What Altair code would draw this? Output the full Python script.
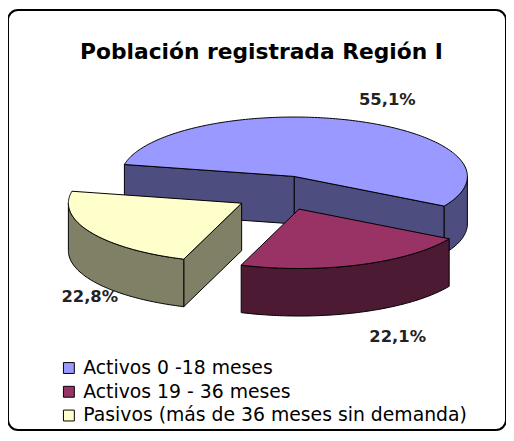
import math
import altair as alt
import pandas as pd

# ---- data ----
categories = [
    "Activos 0 -18 meses",
    "Activos 19 - 36 meses",
    "Pasivos (más de 36 meses sin demanda)",
]
values = [55.1, 22.1, 22.8]
title_text = "Población registrada Región I"

# ---- styles / layout ----
top_colors = ["#9999FF", "#993366", "#FFFFCC"]
side_colors = ["#4D4D80", "#4D1A33", "#808066"]
W, H = 503, 424
CX, CY = 289, 168          # centre of the pie's top ellipse (chart px)
RX, RY = 175, 60           # ellipse radii
DEPTH = 48                 # pie thickness
START = 168.4              # first slice starts here, slices run clockwise
EXPLODE = [(0, 0), (5, 33), (-53, 27)]
LABEL_OFF = [(32, -21), (39, 73), (-1, 65)]
DRAW_ORDER = [0, 2, 1]
FONT = "DejaVu Sans"

labels = [f"{v:.1f}".replace(".", ",") + "%" for v in values]


def pt(a, ox, oy, dz=0.0):
    r = math.radians(a)
    return CX + ox + RX * math.cos(r), CY + oy - RY * math.sin(r) + dz


def arc(a1, a2, ox, oy, dz=0.0):
    n = max(2, int(abs(a2 - a1) / 1.0) + 1)
    return [pt(a1 + (a2 - a1) * k / (n - 1), ox, oy, dz) for k in range(n)]


rows = []
label_rows = []
pid = 0


def add_poly(points, slice_i, kind):
    global pid
    for k, (x, y) in enumerate(points):
        rows.append({"poly": pid, "slice": slice_i, "kind": kind, "idx": k,
                     "x": x, "y": y, "category": categories[slice_i]})
    pid += 1


total = sum(values)
cum = 0.0
spans = []
for i, v in enumerate(values):
    a_start = START - cum / total * 360.0
    a_end = a_start - v / total * 360.0
    cum += v
    spans.append((a_end, a_start))

for i in range(len(values)):
    lo, hi = spans[i]
    ox, oy = EXPLODE[i]
    apex = (CX + ox, CY + oy)
    apex_b = (CX + ox, CY + oy + DEPTH)
    # cut faces
    if math.cos(math.radians(lo)) > 0:
        p, pb = pt(lo, ox, oy), pt(lo, ox, oy, DEPTH)
        add_poly([apex, p, pb, apex_b], i, "side")
    if math.cos(math.radians(hi)) < 0:
        p, pb = pt(hi, ox, oy), pt(hi, ox, oy, DEPTH)
        add_poly([apex, p, pb, apex_b], i, "side")
    # outer wall (front half only)
    for k in (-2, -1, 0, 1):
        f1, f2 = 180 + 360 * k, 360 + 360 * k
        a1, a2 = max(lo, f1), min(hi, f2)
        if a2 - a1 > 0.5:
            add_poly(arc(a1, a2, ox, oy) + arc(a2, a1, ox, oy, DEPTH), i, "side")
    # top face
    add_poly([apex] + arc(lo, hi, ox, oy), i, "top")
    # label
    mid = (lo + hi) / 2
    mx, my = pt(mid, ox, oy)
    label_rows.append({"x": mx + LABEL_OFF[i][0], "y": my + LABEL_OFF[i][1],
                       "label": labels[i]})

df = pd.DataFrame(rows)
ldf = pd.DataFrame(label_rows)

xs = alt.Scale(domain=[0, W], nice=False, zero=False)
ys = alt.Scale(domain=[0, H], nice=False, zero=False, reverse=True)
X = alt.X("x:Q", scale=xs, axis=None)
Y = alt.Y("y:Q", scale=ys, axis=None)

base = alt.Chart(df)
layers = []
for i in DRAW_ORDER:
    layers.append(
        base.transform_filter(
            f"datum.slice == {i} && datum.kind == 'side'"
        ).mark_line(interpolate="linear-closed", fill=side_colors[i],
                    stroke="black", strokeWidth=1, strokeJoin="round")
        .encode(x=X, y=Y, detail="poly:N", order="idx:Q")
    )

tops = base.transform_filter("datum.kind == 'top'").mark_line(
    interpolate="linear-closed", stroke="black", strokeWidth=1, strokeJoin="round"
).encode(
    x=X, y=Y, detail="poly:N", order="idx:Q",
    fill=alt.Fill("category:N",
                  scale=alt.Scale(domain=categories, range=top_colors),
                  legend=alt.Legend(orient="none", legendX=52, legendY=352,
                                    title=None, symbolType="square",
                                    symbolSize=121, symbolStrokeColor="black",
                                    symbolStrokeWidth=1, labelFont=FONT,
                                    labelFontSize=19, labelColor="black",
                                    rowPadding=4, labelOffset=5,
                                    labelLimit=500)),
)
layers.append(tops)

text_layer = alt.Chart(ldf).mark_text(
    font=FONT, fontSize=16.5, fontWeight="bold", color="#222222",
    align="center", baseline="middle"
).encode(x=X, y=Y, text="label:N")
layers.append(text_layer)

title_layer = alt.Chart(pd.DataFrame({"t": [title_text]})).mark_text(
    font=FONT, fontSize=22, fontWeight="bold", color="black",
    align="center", baseline="alphabetic"
).encode(x=alt.value(256), y=alt.value(49), text="t:N")
layers.append(title_layer)

chart = alt.layer(*layers).properties(
    width=W, height=H, padding=0, autosize=alt.AutoSizeParams(type="none")
).configure_view(
    stroke="black", strokeWidth=2, cornerRadius=10, fill="white"
)

chart.save("out.html", embed_options={"renderer": "svg", "actions": False})
